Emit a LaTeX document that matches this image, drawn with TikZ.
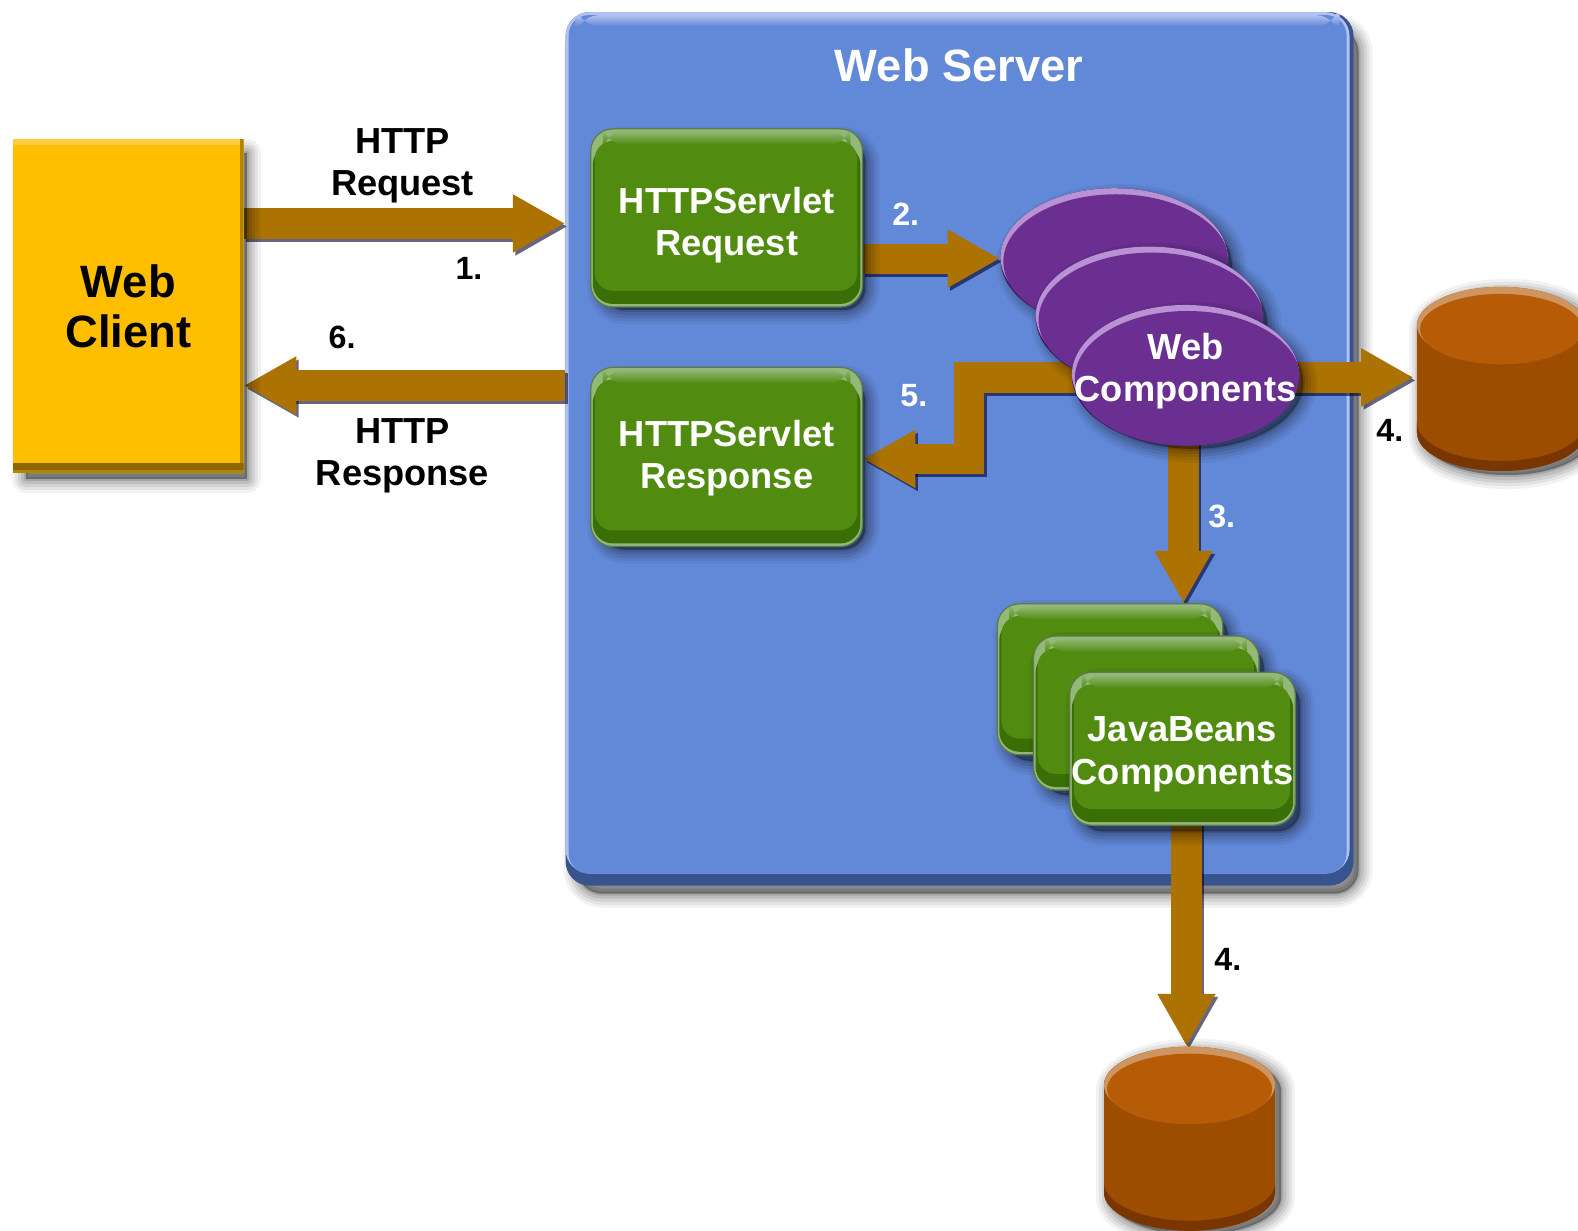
\documentclass[tikz,border=0pt]{standalone}
\usepackage{fontspec}
\setmainfont{Liberation Sans}
\usetikzlibrary{arrows.meta,shapes.geometric,calc}
\definecolor{brownarrow}{HTML}{AC7202}
\definecolor{panelmain}{HTML}{6288D8}
\definecolor{panelrim}{HTML}{B2C2F0}
\definecolor{paneldark}{HTML}{38548F}
\definecolor{greenmain}{HTML}{518B10}
\definecolor{greenrim}{HTML}{94B878}
\definecolor{greendark}{HTML}{3A6E06}
\definecolor{greenline}{HTML}{5C7C4E}
\definecolor{purplemain}{HTML}{6A2F90}
\definecolor{purplerim}{HTML}{B892D4}
\definecolor{purpledark}{HTML}{3F1560}
\definecolor{goldmain}{HTML}{FFBE00}
\definecolor{orangemain}{HTML}{9C4D00}
\definecolor{orangelight}{HTML}{BE7A3A}
\definecolor{orangetop}{HTML}{B65C06}
\definecolor{orangerim}{HTML}{CF9560}
\definecolor{orangedark}{HTML}{7A3600}
\pgfdeclarehorizontalshading{cylshade}{100bp}{color(0bp)=(orangelight); color(8bp)=(orangemain); color(92bp)=(orangemain); color(100bp)=(orangedark)}
\pgfdeclarelayer{panellayer}
\pgfdeclarelayer{arrowlayer}
\pgfsetlayers{panellayer,arrowlayer,main}
\newcommand\softshade[2][black]{%
  \foreach \w/\o in {14/.05,11/.06,8/.08,5/.09,2/.12}{%
    \fill[#1,opacity=\o,draw=#1,line width=\w pt,line join=round] #2;}}
\newcommand\blockarrow[1]{%
  \draw[arrowshade] #1;
  \draw[blockstyle] #1;}
\newcommand\cylpaint[4]{% x0,x1,ytop,ybottom
  \softshade{(#1+6,#3+44) -- (#1+6,#4-34) arc[start angle=180,end angle=0,x radius={(#2-#1)/2},y radius=38] -- (#2+6,#3+44) arc[start angle=0,end angle=-180,x radius={(#2-#1)/2},y radius=38] -- cycle}
  \path[shading=cylshade]
    (#1,#3+38) -- (#1,#4-38) arc[start angle=180,end angle=0,x radius={(#2-#1)/2},y radius=38] -- (#2,#3+38) arc[start angle=0,end angle=-180,x radius={(#2-#1)/2},y radius=38] -- cycle;
  \begin{scope}
    \clip (#1,#3+38) -- (#1,#4-38) arc[start angle=180,end angle=0,x radius={(#2-#1)/2},y radius=38] -- (#2,#3+38) arc[start angle=0,end angle=-180,x radius={(#2-#1)/2},y radius=38] -- cycle;
    \fill[orangedark] (#1,#4-38) arc[start angle=180,end angle=0,x radius={(#2-#1)/2},y radius=38] -- (#2,#4-48) arc[start angle=0,end angle=180,x radius={(#2-#1)/2},y radius=38] -- cycle;
  \end{scope}
  \fill[orangerim] ({(#1+#2)/2},#3+38) ellipse[x radius={(#2-#1)/2},y radius=38];
  \fill[orangetop] ({(#1+#2)/2},#3+42) ellipse[x radius={(#2-#1)/2-3},y radius=35];
}
\tikzset{
  x=0.5pt,y=-0.5pt,
  blockstyle/.style={draw=brownarrow,line width=15pt,line join=miter,
    -{Triangle[length=26pt,width=27pt,fill=brownarrow]}},
  arrowshade/.style={draw=black!80!blue,opacity=.6,line width=15pt,line join=miter,
    -{Triangle[length=26pt,width=27pt,fill=black!80!blue]},transform canvas={shift={(1.2pt,-1.5pt)}}},
  panelbox/.style={rectangle,rounded corners=12pt,fill=paneldark,inner sep=0pt,
    minimum width=391.5pt,minimum height=434pt,
    path picture={
      \fill[panelrim] (path picture bounding box.north west) rectangle ([shift={(-2pt,6pt)}]path picture bounding box.south east);
      \fill[panelmain,rounded corners=10pt] ([shift={(1.5pt,-1.5pt)}]path picture bounding box.north west) rectangle ([shift={(-3.5pt,6pt)}]path picture bounding box.south east);
      \shade[top color=panelrim,bottom color=panelmain] ([shift={(5pt,-1.5pt)}]path picture bounding box.north west) rectangle ([shift={(-7pt,-7pt)}]path picture bounding box.north east);
    }},
  greenbox/.style args={#1/#2}{rectangle,rounded corners=11pt,fill=greenrim,inner sep=0pt,
    draw=greenline,line width=.6pt,
    minimum width=#1*.5pt,minimum height=#2*.5pt,
    text=white,font=\fontsize{18}{21}\selectfont\bfseries,align=center,
    path picture={
      \fill[greendark,rounded corners=10pt] ([shift={(1pt,-8pt)}]path picture bounding box.north west) rectangle ([shift={(-1pt,1.5pt)}]path picture bounding box.south east);
      \fill[greenmain,rounded corners=9pt] ([shift={(2pt,-6pt)}]path picture bounding box.north west) rectangle ([shift={(-2.5pt,8pt)}]path picture bounding box.south east);
      \shade[top color=greenrim,bottom color=greenmain] ([shift={(6pt,-1pt)}]path picture bounding box.north west) rectangle ([shift={(-6pt,-8pt)}]path picture bounding box.north east);
    }},
  purpleoval/.style={ellipse,inner sep=0pt,minimum width=226*.5pt,minimum height=140*.5pt,
    fill=purpledark,text=white,font=\fontsize{18}{21}\selectfont\bfseries,
    path picture={
      \fill[purplerim] ([yshift=1.5pt]path picture bounding box.center) ellipse[x radius=113,y radius=70];
      \fill[purplemain] ([shift={(1pt,-1.5pt)}]path picture bounding box.center) ellipse[x radius=112,y radius=67];
    }},
  clientbox/.style={rectangle,fill=goldmain,inner sep=0pt,minimum width=114.5pt,minimum height=166pt,
    text=black,font=\fontsize{22.5}{25}\selectfont\bfseries,align=center,
    path picture={
      \fill[goldmain!75!white] (path picture bounding box.north west) rectangle ([yshift=-3pt]path picture bounding box.north east);
      \fill[goldmain!70!black] ([xshift=-2pt]path picture bounding box.north east) rectangle (path picture bounding box.south east);
      \fill[goldmain!55!black] ([yshift=5pt]path picture bounding box.south west) rectangle ([yshift=1.5pt]path picture bounding box.south east);
      \fill[goldmain!70!black] ([yshift=1.5pt]path picture bounding box.south west) rectangle (path picture bounding box.south east);
    }},
  holder/.style={rectangle,inner sep=0pt},
  blacklabel/.style={text=black,font=\fontsize{18}{21}\selectfont\bfseries,align=center},
  whitetitle/.style={text=white,font=\fontsize{22.5}{25}\selectfont\bfseries},
  numblack/.style={text=black,font=\fontsize{16}{18}\selectfont\bfseries},
  numwhite/.style={text=white,font=\fontsize{16}{18}\selectfont\bfseries},
}
\begin{document}
\begin{tikzpicture}
\useasboundingbox (0,0) rectangle (1568,1223);
\clip (0,0) rectangle (1568,1223);

% panel
\begin{pgfonlayer}{panellayer}
  \fill[white] (0,0) rectangle (1568,1223);
  \softshade{[rounded corners=12pt] (574,28) rectangle (1350,888)}
  \node[panelbox] (panel) at (953.5,446) {};
\end{pgfonlayer}
\node[whitetitle] (title) at (953,65) {Web Server};

% web client
\softshade{(26,152) rectangle (245,476)}
\node[clientbox] (client) at (127.5,304) {\rule{0pt}{17pt}Web\\Client};

% labels
\node[blacklabel] (reqlabel) at (400,165) {HTTP\\Request};
\node[blacklabel] (resplabel) at (400,453) {HTTP\\Response};
\node[numblack] (n1) at (466,267) {1.};
\node[numblack] (n6) at (340,335) {6.};
\node[numblack] (n4a) at (1381,428) {4.};
\node[numblack] (n4b) at (1220,953) {4.};
\node[numwhite] (n2) at (900,213) {2.};
\node[numwhite] (n5) at (908,393) {5.};
\node[numwhite] (n3) at (1214,513) {3.};

% servlet boxes
\softshade{[rounded corners=11pt] (598,140) rectangle (860,308)}
\node[greenbox=270/177] (req) at (722,216.5) {\rule{0pt}{20pt}HTTPServlet\\Request};
\softshade{[rounded corners=11pt] (598,377) rectangle (860,546)}
\node[greenbox=270/178] (resp) at (722,454) {\rule{0pt}{14pt}HTTPServlet\\Response};

% web components
\softshade{(1114,263) ellipse[x radius=110,y radius=66]}
\node[purpleoval] (webc) at (1107,257) {};
\softshade{(1149,321) ellipse[x radius=110,y radius=66]}
\node[purpleoval] (webb) at (1142,315) {};
\softshade{(1185,380) ellipse[x radius=110,y radius=66]}
\node[purpleoval] (weba) at (1178,373) {\makebox[0pt]{\raisebox{-2.5pt}[0pt][0pt]{\begin{tabular}{@{}c@{}}Web\\Components\end{tabular}}}};

% JavaBeans components
\softshade{[rounded corners=11pt] (1001,610) rectangle (1220,756)}
\node[greenbox=224/150] (jbc) at (1103,675) {};
\softshade{[rounded corners=11pt] (1037,642) rectangle (1256,790)}
\node[greenbox=224/153] (jbb) at (1139,708.5) {};
\softshade{[rounded corners=11pt] (1073,678) rectangle (1292,826)}
\node[greenbox=224/152] (jba) at (1175,744) {\rule{0pt}{18pt}JavaBeans\\Components};

% databases
\cylpaint{1408}{1575}{285}{468}
\node[holder,minimum width=83.5pt,minimum height=91.5pt] (dba) at (1491.5,376.5) {};
\cylpaint{1097}{1267}{1040}{1223}
\node[holder,minimum width=85pt,minimum height=91.5pt] (dbb) at (1182,1131.5) {};

% connectors
\coordinate (a1) at (400,222);
\coordinate (a6) at (400,383);
\coordinate (a2) at (900,257);
\coordinate (a5start) at (1100,375);
\coordinate (a5end) at (900,456);
\coordinate (a3) at (1176,500);
\coordinate (a4b) at (1179,900);
\coordinate (a5turn) at (963,420);
\begin{pgfonlayer}{arrowlayer}
  \blockarrow{(client.east |- a1) -- (panel.west |- a1)}
  \blockarrow{(panel.west |- a6) -- (client.east |- a6)}
  \blockarrow{(req.east |- a2) -- (webc.west |- a2)}
  \blockarrow{(weba.center |- a5start) -- (a5turn |- a5start) -- (a5turn |- a5end) -- (resp.east |- a5end)}
  \blockarrow{(weba.center |- a5start) -- ([xshift=-1.5pt]dba.west |- a5start)}
  \blockarrow{(a3 |- weba.center) -- (a3 |- jbc.north)}
  \blockarrow{(a4b |- jba.center) -- (a4b |- dbb.north)}
\end{pgfonlayer}
\end{tikzpicture}
\end{document}
